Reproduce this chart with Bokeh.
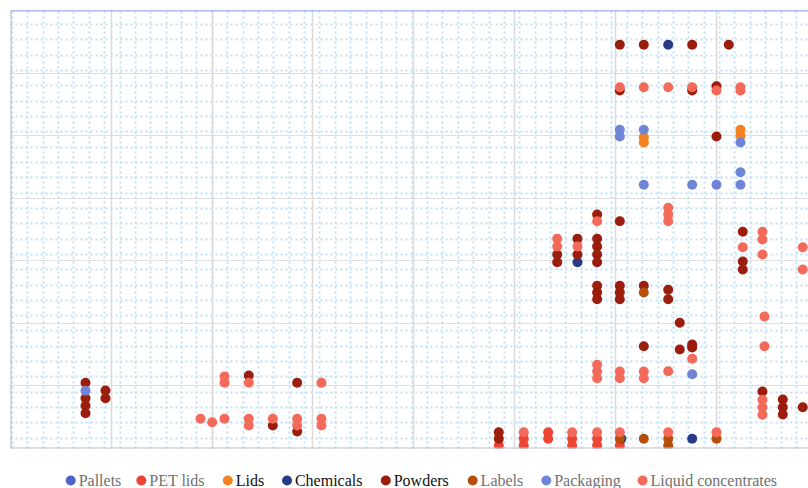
from bokeh.plotting import figure
from bokeh.layouts import column
from bokeh.models import Range1d, Grid, FixedTicker, Span, ColumnDataSource
from bokeh.core.properties import value
from bokeh.embed import file_html
from bokeh.resources import INLINE
import numpy as np

# ---- data ----
series_names = ["Pallets", "PET lids", "Lids", "Chemicals", "Powders", "Labels", "Packaging", "Liquid concentrates"]
series_colors = ["#4e62c8", "#ee4433", "#f5821f", "#273a85", "#9b1d0e", "#b5500b", "#6f86d6", "#f46a5a"]
legend_text_colors = ["#707070", "#707070", "#111111", "#111111", "#111111", "#707070", "#707070", "#707070"]

pallets_x = []
pallets_y = []

pet_lids_x = [48.44, 50.92, 50.92, 53.34, 53.34, 55.72, 55.72, 58.2, 58.2, 60.45]
pet_lids_y = [0.48, 1.55, 0.48, 2.61, 1.55, 1.55, 0.48, 1.55, 0.48, 0.48]

lids_x = [62.83, 62.83, 72.42, 72.42]
lids_y = [49.75, 48.91, 50.93, 49.98]

chemicals_x = [60.6, 67.63, 56.25, 65.25]
chemicals_y = [1.55, 1.55, 29.77, 64.52]

powders_x = [7.44, 7.44, 7.44, 7.44, 9.42, 9.42, 23.64, 26.02, 28.44, 28.44,
             48.44, 48.44, 54.24, 54.24, 56.25, 56.25, 58.2, 58.2, 58.2, 58.2,
             58.2, 60.45, 58.2, 58.2, 58.2, 60.45, 60.45, 60.45, 62.83, 65.25,
             65.25, 66.4, 66.4, 62.83, 67.63, 67.63, 72.65, 72.65, 72.65, 74.6,
             76.62, 76.62, 76.62, 78.6, 60.45, 62.83, 67.63, 71.26, 60.45, 67.63,
             70.04, 70.04]
powders_y = [10.5, 8.04, 6.82, 5.64, 9.27, 8.04, 11.67, 3.68, 10.5, 2.72,
             2.61, 1.55, 31.01, 29.77, 33.51, 31.01, 33.51, 32.28, 31.01, 29.77,
             37.4, 36.33, 26.0, 24.93, 23.86, 26.0, 24.93, 23.86, 26.0, 25.36,
             23.86, 20.09, 15.82, 16.35, 16.62, 16.14, 34.63, 29.89, 28.61, 9.11,
             7.83, 6.6, 5.43, 6.6, 64.52, 64.52, 64.52, 64.52, 57.22, 57.22,
             57.9, 49.86]

labels_x = [60.45, 62.83, 65.25, 65.25, 70.04, 62.83]
labels_y = [1.55, 1.55, 1.55, 0.48, 1.55, 24.93]

packaging_x = [7.44, 67.63, 60.45, 60.45, 62.83, 72.42, 72.42, 62.83, 67.63, 70.04, 72.42]
packaging_y = [9.22, 11.87, 50.93, 49.86, 50.93, 48.91, 44.16, 42.15, 42.15, 42.15, 42.15]

liquid_x = [18.85, 20.01, 21.23, 21.23, 21.23, 23.64, 23.64, 23.64, 26.02, 28.44,
            28.44, 30.85, 30.85, 30.85, 50.92, 55.72, 58.2, 60.45, 65.25, 70.04,
            58.2, 58.2, 58.2, 60.45, 60.45, 62.83, 62.83, 65.25, 67.63, 54.24,
            54.24, 56.25, 58.2, 65.25, 65.25, 65.25, 72.65, 74.6, 74.6, 74.6,
            78.6, 78.6, 74.8, 74.8, 74.6, 74.6, 74.6, 60.45, 62.83, 65.25,
            67.63, 70.04, 72.42, 72.42]
liquid_y = [4.75, 4.2, 11.51, 10.5, 4.75, 10.5, 4.75, 3.68, 4.75, 4.75,
            3.68, 10.5, 4.75, 3.68, 2.61, 2.61, 2.61, 2.61, 2.61, 2.61,
            13.38, 12.31, 11.24, 12.31, 11.24, 12.31, 11.24, 12.35, 14.34, 33.51,
            32.28, 32.28, 36.33, 38.47, 37.4, 36.33, 32.17, 34.63, 33.4, 31.01,
            32.17, 28.61, 21.1, 16.35, 7.78, 6.6, 5.39, 57.74, 57.74, 57.74,
            57.74, 57.22, 57.74, 57.22]

series_x = [pallets_x, pet_lids_x, lids_x, chemicals_x, powders_x, labels_x, packaging_x, liquid_x]
series_y = [pallets_y, pet_lids_y, lids_y, chemicals_y, powders_y, labels_y, packaging_y, liquid_y]

# ---- main figure ----
W = 808
p = figure(width=W, height=450, output_backend="svg", toolbar_location=None,
           x_range=Range1d(0, 79.17), y_range=Range1d(0, 70),
           x_axis_location=None, y_axis_location=None,
           min_border_left=10, min_border_top=10, min_border_right=0, min_border_bottom=2)
p.outline_line_color = None
p.background_fill_color = "white"
p.border_fill_color = "white"

# minor grid (light blue dotted)
minor_x = list(0.198 + 1.525 * np.arange(0, 53))
minor_y = list(1.646 + 2.448 * np.arange(0, 28))
p.add_layout(Grid(dimension=0, ticker=FixedTicker(ticks=minor_x), grid_line_color="#bfe0f8",
                  grid_line_width=2, grid_line_dash="2 3"))
p.add_layout(Grid(dimension=1, ticker=FixedTicker(ticks=minor_y), grid_line_color="#bfe0f8",
                  grid_line_width=2, grid_line_dash="2 3"))
# major grid
p.add_layout(Grid(dimension=0, ticker=FixedTicker(ticks=list(range(10, 80, 10))),
                  grid_line_color="#dadada", grid_line_width=1.5))
p.add_layout(Grid(dimension=1, ticker=FixedTicker(ticks=list(range(10, 70, 10))),
                  grid_line_color="#d2d2d2", grid_line_width=1, grid_line_dash="1 2"))

# frame edges
p.add_layout(Span(location=0, dimension="height", line_color="#b3b3b3", line_width=2))
p.add_layout(Span(location=70, dimension="width", line_color="#5b76d4", line_width=1.5))
p.add_layout(Span(location=0, dimension="width", line_color="#b7bfdb", line_width=2))

for name, col, xs, ys in zip(series_names, series_colors, series_x, series_y):
    src = ColumnDataSource(data=dict(x=xs, y=ys))
    p.scatter("x", "y", source=src, size=10, fill_color=col, line_color=None)

# ---- legend strip (separate figure so each label keeps its own colour) ----
legend_centers = [61, 132.5, 220, 280, 380, 468, 542.5, 640]
lg = figure(width=W, height=38, output_backend="svg", toolbar_location=None,
            x_range=Range1d(0, W), y_range=Range1d(0, 38),
            x_axis_location=None, y_axis_location=None,
            min_border_left=0, min_border_right=0, min_border_top=0, min_border_bottom=0)
lg.outline_line_color = None
lg.xgrid.visible = False
lg.ygrid.visible = False
lsrc = ColumnDataSource(data=dict(
    cx=legend_centers,
    tx=[c + 8 for c in legend_centers],
    y=[8] * len(series_names),
    name=series_names,
    color=series_colors,
    tcolor=legend_text_colors,
))
lg.scatter("cx", "y", source=lsrc, size=10, fill_color="color", line_color=None)
lg.text("tx", "y", text="name", source=lsrc, text_color="tcolor",
        text_font=value("Liberation Serif"), text_font_size="16px",
        text_baseline="middle", text_align="left")

layout = column(p, lg, spacing=0)
open("out.html", "w").write(file_html(layout, INLINE))
